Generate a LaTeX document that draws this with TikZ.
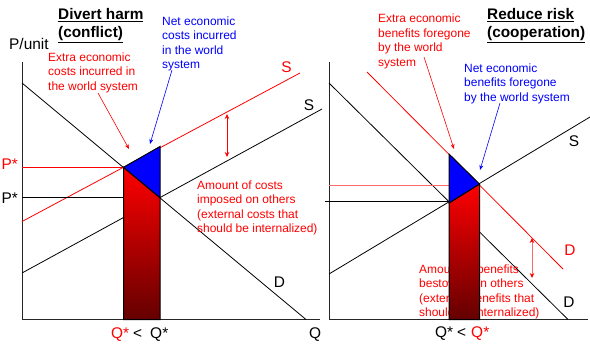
\documentclass[tikz,border=0pt]{standalone}
\usepackage{fontspec}
\setmainfont{Liberation Sans}
\usetikzlibrary{arrows.meta}
\definecolor{ecred}{RGB}{255,0,0}
\definecolor{ecblue}{RGB}{0,0,255}
\definecolor{ecdark}{RGB}{100,0,0}
\definecolor{ecpale}{RGB}{255,105,105}
\begin{document}
\begin{tikzpicture}[x=1bp,y=-1bp,
  axis/.style={line width=1bp, black!85},
  curve/.style={line width=0.8bp},
  note/.style={font=\fontsize{12}{14.5}\selectfont, align=left, anchor=north west, inner sep=0pt},
  heading/.style={font=\fontsize{15.4}{18}\selectfont\bfseries, align=left, anchor=north west, inner sep=0pt},
  lab/.style={font=\fontsize{15.5}{18}\selectfont, inner sep=0pt},
  pointer/.style={line width=0.6bp, -{Stealth[length=5bp,width=4bp]}},
  gap/.style={line width=0.8bp, {Stealth[length=5bp,width=4.5bp]}-{Stealth[length=5bp,width=4.5bp]}},
  region/.style={draw=black, line width=1bp}]
\useasboundingbox (0,0) rectangle (590,347);

% ---------------- left panel ----------------
\draw[axis] (22,62) -- (22,319.5) -- (320,319.5);
\draw[curve] (22,83) -- (306,319.5);
\draw[curve, ecred] (22,221.5) -- (300,73);
\draw[curve] (22,273) -- (322,109);
\draw[curve, ecred] (22,167) -- (123.5,167);
\draw[curve] (22,197) -- (160,197);

\node[heading] (t1) at (58,8) {\underline{Divert harm}\\\underline{(conflict)}};
\node[lab, anchor=base west] (pu) at (9,49) {P/unit};
\node[lab, anchor=base west, text=ecred] (p1) at (1.5,169.5) {P*};
\node[lab, anchor=base west] (p2) at (1.5,203.3) {P*};
\node[lab] (s1) at (286.5,67) {\textcolor{ecred}{S}};
\node[lab] (s2) at (309,105) {S};
\node[lab] (d1) at (279.5,282) {D};
\node[lab, anchor=base west] (q0) at (309,338.5) {Q};
\node[lab, anchor=base west] (q1) at (111,338.5) {\textcolor{ecred}{Q*}\hspace{4bp}<\hspace{8bp}Q*};

\node[note, text=ecred] (n1) at (48,52.3) {Extra economic\\costs incurred in\\the world system};
\node[note, text=ecblue] (n2) at (162,16.3) {Net economic\\costs incurred\\in the world\\system};
\node[note, text=ecred] (n3) at (197,180.3) {Amount of costs\\imposed on others\\(external costs that\\should be internalized)};

\shade[top color=ecred, bottom color=ecdark] (123.5,167.3) -- (160,197.7) -- (160,319.5) -- (123.5,319.5) -- cycle;
\draw[region] (123.5,167.3) -- (160,197.7) -- (160,319.5) -- (123.5,319.5) -- cycle;
\filldraw[region, fill=ecblue] (123.5,167.3) -- (160,146.5) -- (160,197.7) -- cycle;

\coordinate (a1s) at (98,93);
\coordinate (a1e) at (129,149);
\coordinate (a2s) at (172,70);
\coordinate (a2e) at (150,144);
\coordinate (g1s) at (227,114);
\coordinate (g1e) at (227,157);
\draw[pointer, ecred] (a1s) -- (a1e);
\draw[pointer, ecblue] (a2s) -- (a2e);
\draw[gap, ecred] (g1s) -- (g1e);

% ---------------- right panel ----------------
\draw[axis] (329,62) -- (329,319.5) -- (588,319.5);
\draw[curve] (329,83) -- (568,319.5);
\draw[curve] (329,274) -- (590,117);
\draw[curve, ecred] (367,72) -- (563,269);
\draw[curve, ecpale] (329,185.7) -- (449,185.7);
\draw[curve] (325,201) -- (449,201);

\node[heading] (t2) at (487,8) {\underline{Reduce risk}\\\underline{(cooperation)}};
\node[lab] (s3) at (574,141) {S};
\node[lab, text=ecred] (d2) at (570,250.5) {D};
\node[lab] (d3) at (569,302) {D};
\node[lab, anchor=base west] (q2) at (435,337.5) {Q*\hspace{4bp}<\hspace{5bp}\textcolor{ecred}{Q*}};

\node[note, text=ecred] (n4) at (378,13.8) {Extra economic\\benefits foregone\\by the world\\system};
\node[note, text=ecblue] (n5) at (464,63.3) {Net economic\\benefits foregone\\by the world system};
\node[note, text=ecred] (n6) at (419,264.3) {Amount of benefits\\bestowed on others\\(external benefits that\\should be internalized)};

\shade[top color=ecred, bottom color=ecdark] (449,203) -- (479.5,184) -- (479.5,319.5) -- (449,319.5) -- cycle;
\draw[region] (449,203) -- (479.5,184) -- (479.5,319.5) -- (449,319.5) -- cycle;
\filldraw[region, fill=ecblue] (449,154) -- (479.5,184) -- (449,203) -- cycle;

\coordinate (a3s) at (424,57);
\coordinate (a3e) at (454,149);
\coordinate (a4s) at (500,103);
\coordinate (a4e) at (480,170);
\coordinate (g2s) at (532,238);
\coordinate (g2e) at (532,278);
\draw[pointer, ecred] (a3s) -- (a3e);
\draw[pointer, ecblue] (a4s) -- (a4e);
\draw[line width=0.8bp, ecpale, {Stealth[length=5bp,width=4.5bp,color=ecred]}-{Stealth[length=5bp,width=4.5bp,color=ecred]}] (g2s) -- (g2e);
\end{tikzpicture}
\end{document}
